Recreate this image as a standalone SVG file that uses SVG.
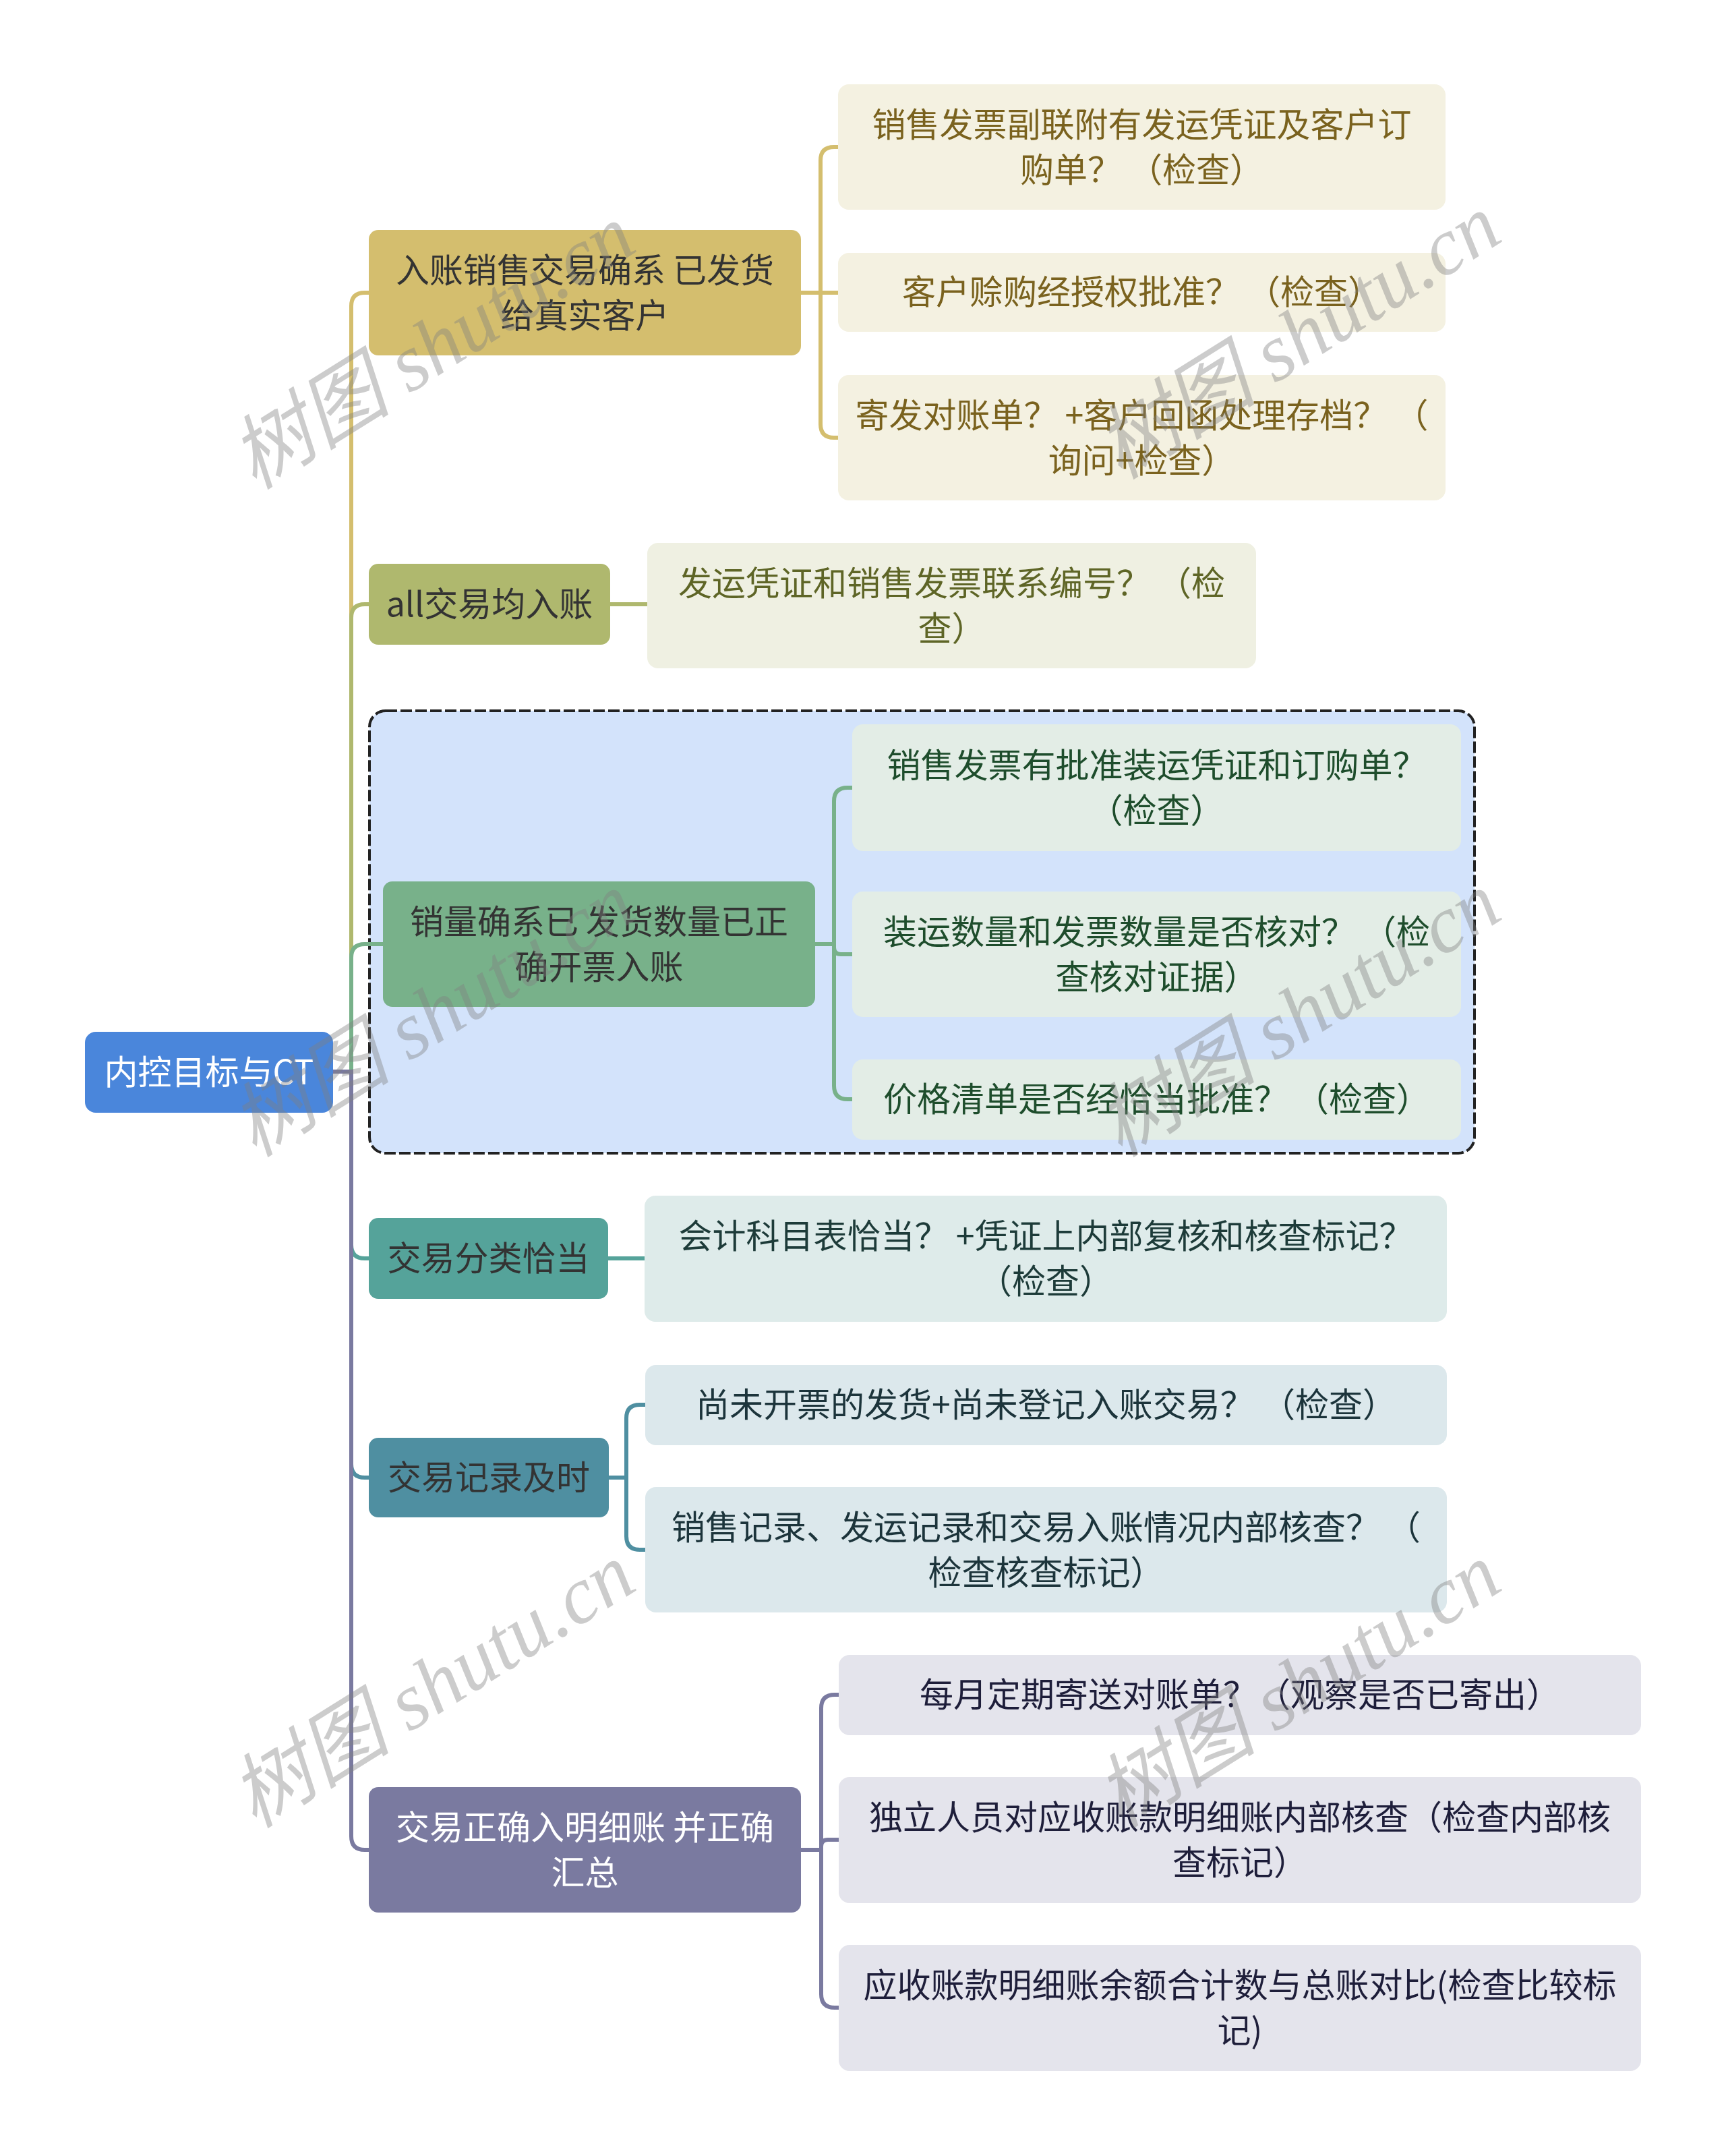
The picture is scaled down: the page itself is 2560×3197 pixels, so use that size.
<svg xmlns="http://www.w3.org/2000/svg" width="2560" height="3197" viewBox="0 0 2560 3197">
<style>
text{font-family:"Noto Sans CJK SC","Noto Sans",sans-serif;font-size:50px;text-anchor:middle}
.c{fill:none;stroke-width:6;stroke-linecap:butt}
.wm{font-family:"Liberation Serif","Noto Sans CJK SC",serif;font-style:italic;font-size:120px;fill:#808080;fill-opacity:0.4}
.t1{fill:#333333}
.tw{fill:#ffffff}
.l1{fill:#F4F1E1}.l1t{fill:#7A621E}
.l2{fill:#EFF0E2}.l2t{fill:#5E6526}
.l3{fill:#E3EDE6}.l3t{fill:#1E4D2C}
.l4{fill:#DEEBEA}.l4t{fill:#1D3B39}
.l5{fill:#DCE8EC}.l5t{fill:#1C343B}
.l6{fill:#E4E4EC}.l6t{fill:#1E1E3A}
</style>
<rect width="2560" height="3197" fill="#ffffff"/>
<g id="group-box">
<rect x="548" y="1054" width="1639" height="656" rx="24" fill="#D3E3FB" stroke="#222222" stroke-width="4" stroke-dasharray="17 5"/>
</g>
<g id="connectors">
<path class="c" stroke="#D4BE6E" d="M494,1589 H521 V454 Q521,434 541,434 H547"/>
<path class="c" stroke="#AFB86E" d="M494,1589 H521 V916 Q521,896 541,896 H547"/>
<path class="c" stroke="#78B18A" d="M494,1589 H521 V1420 Q521,1400 541,1400 H568"/>
<path class="c" stroke="#55A39A" d="M494,1589 H521 V1846 Q521,1866 541,1866 H547"/>
<path class="c" stroke="#4F8FA1" d="M494,1589 H521 V2171 Q521,2191 541,2191 H547"/>
<path class="c" stroke="#7A7AA0" d="M494,1589 H521 V2723 Q521,2743 541,2743 H547"/>
<path class="c" stroke="#D4BE6E" d="M1188,434 H1217 V238 Q1217,218 1237,218 H1243"/>
<path class="c" stroke="#D4BE6E" d="M1188,434 H1243"/>
<path class="c" stroke="#D4BE6E" d="M1188,434 H1217 V629 Q1217,649 1237,649 H1243"/>
<path class="c" stroke="#AFB86E" d="M905,896 H960"/>
<path class="c" stroke="#78B18A" d="M1209,1400 H1237 V1188 Q1237,1168 1257,1168 H1264"/>
<path class="c" stroke="#78B18A" d="M1209,1400 H1237 V1405 Q1237,1415 1247,1415 H1264"/>
<path class="c" stroke="#78B18A" d="M1209,1400 H1237 V1610 Q1237,1630 1257,1630 H1264"/>
<path class="c" stroke="#55A39A" d="M902,1866 H956"/>
<path class="c" stroke="#4F8FA1" d="M903,2191 H929 V2103 Q929,2083 949,2083 H957"/>
<path class="c" stroke="#4F8FA1" d="M903,2191 H929 V2278 Q929,2298 949,2298 H957"/>
<path class="c" stroke="#7A7AA0" d="M1188,2743 H1218 V2533 Q1218,2513 1238,2513 H1244"/>
<path class="c" stroke="#7A7AA0" d="M1188,2743 H1218 V2738 Q1218,2728 1228,2728 H1244"/>
<path class="c" stroke="#7A7AA0" d="M1188,2743 H1218 V2957 Q1218,2977 1238,2977 H1244"/>
</g>
<g id="root">
<rect x="126" y="1530" width="368" height="120" rx="16" fill="#4A86DB"/>
<text class="tw" x="310" y="1608">内控目标与CT</text>
</g>
<g id="n1">
<rect x="547" y="341" width="641" height="186" rx="14" fill="#D4BE6E"/>
<text class="t1" x="867.5" y="418.5">入账销售交易确系 已发货</text>
<text class="t1" x="867.5" y="485.5">给真实客户</text>
</g>
<g id="n2">
<rect x="547" y="836" width="358" height="120" rx="14" fill="#AFB86E"/>
<text class="t1" x="726" y="914">all交易均入账</text>
</g>
<g id="n3">
<rect x="568" y="1307" width="641" height="186" rx="14" fill="#78B18A"/>
<text class="t1" x="888.5" y="1384.5">销量确系已 发货数量已正</text>
<text class="t1" x="888.5" y="1451.5">确开票入账</text>
</g>
<g id="n4">
<rect x="547" y="1806" width="355" height="120" rx="14" fill="#55A39A"/>
<text class="t1" x="724.5" y="1884">交易分类恰当</text>
</g>
<g id="n5">
<rect x="547" y="2132" width="356" height="118" rx="14" fill="#4F8FA1"/>
<text class="t1" x="725" y="2209">交易记录及时</text>
</g>
<g id="n6">
<rect x="547" y="2650" width="641" height="186" rx="14" fill="#7A7AA0"/>
<text class="tw" x="867.5" y="2727.5">交易正确入明细账 并正确</text>
<text class="tw" x="867.5" y="2794.5">汇总</text>
</g>
<g id="l1a">
<rect class="l1" x="1243" y="125" width="901" height="186" rx="16"/>
<text class="l1t" x="1693.5" y="202.5">销售发票副联附有发运凭证及客户订</text>
<text class="l1t" x="1693.5" y="269.5">购单？ （检查）</text>
</g>
<g id="l1b">
<rect class="l1" x="1243" y="375" width="901" height="117" rx="16"/>
<text class="l1t" x="1693.5" y="451">客户赊购经授权批准？ （检查）</text>
</g>
<g id="l1c">
<rect class="l1" x="1243" y="556" width="901" height="186" rx="16"/>
<text class="l1t" x="1693.5" y="633.5">寄发对账单？ +客户回函处理存档？ （</text>
<text class="l1t" x="1693.5" y="700.5">询问+检查）</text>
</g>
<g id="l2a">
<rect class="l2" x="960" y="805" width="903" height="186" rx="16"/>
<text class="l2t" x="1411.5" y="882.5">发运凭证和销售发票联系编号？ （检</text>
<text class="l2t" x="1411.5" y="949.5">查）</text>
</g>
<g id="l3a">
<rect class="l3" x="1264" y="1074" width="903" height="188" rx="16"/>
<text class="l3t" x="1715.5" y="1152.5">销售发票有批准装运凭证和订购单？</text>
<text class="l3t" x="1715.5" y="1219.5">（检查）</text>
</g>
<g id="l3b">
<rect class="l3" x="1264" y="1322" width="903" height="186" rx="16"/>
<text class="l3t" x="1715.5" y="1399.5">装运数量和发票数量是否核对？ （检</text>
<text class="l3t" x="1715.5" y="1466.5">查核对证据）</text>
</g>
<g id="l3c">
<rect class="l3" x="1264" y="1571" width="903" height="119" rx="16"/>
<text class="l3t" x="1715.5" y="1648">价格清单是否经恰当批准？ （检查）</text>
</g>
<g id="l4a">
<rect class="l4" x="956" y="1773" width="1190" height="187" rx="16"/>
<text class="l4t" x="1551" y="1850.5">会计科目表恰当？ +凭证上内部复核和核查标记？</text>
<text class="l4t" x="1551" y="1917.5">（检查）</text>
</g>
<g id="l5a">
<rect class="l5" x="957" y="2024" width="1189" height="119" rx="16"/>
<text class="l5t" x="1551.5" y="2101">尚未开票的发货+尚未登记入账交易？ （检查）</text>
</g>
<g id="l5b">
<rect class="l5" x="957" y="2205" width="1189" height="186" rx="16"/>
<text class="l5t" x="1551.5" y="2282.5">销售记录、发运记录和交易入账情况内部核查？ （</text>
<text class="l5t" x="1551.5" y="2349.5">检查核查标记）</text>
</g>
<g id="l6a">
<rect class="l6" x="1244" y="2454" width="1190" height="119" rx="16"/>
<text class="l6t" x="1839" y="2531">每月定期寄送对账单？（观察是否已寄出）</text>
</g>
<g id="l6b">
<rect class="l6" x="1244" y="2635" width="1190" height="187" rx="16"/>
<text class="l6t" x="1839" y="2712.5">独立人员对应收账款明细账内部核查（检查内部核</text>
<text class="l6t" x="1839" y="2779.5">查标记）</text>
</g>
<g id="l6c">
<rect class="l6" x="1244" y="2884" width="1190" height="187" rx="16"/>
<text class="l6t" x="1839" y="2961.5">应收账款明细账余额合计数与总账对比(检查比较标</text>
<text class="l6t" x="1839" y="3028.5">记)</text>
</g>
<g id="watermarks">
<text class="wm" transform="translate(642,515) rotate(-32)" dy="40">树图 shutu.cn</text>
<text class="wm" transform="translate(1926,500) rotate(-32)" dy="40">树图 shutu.cn</text>
<text class="wm" transform="translate(642,1505) rotate(-32)" dy="40">树图 shutu.cn</text>
<text class="wm" transform="translate(1926,1505) rotate(-32)" dy="40">树图 shutu.cn</text>
<text class="wm" transform="translate(642,2500) rotate(-32)" dy="40">树图 shutu.cn</text>
<text class="wm" transform="translate(1926,2500) rotate(-32)" dy="40">树图 shutu.cn</text>
</g>
</svg>
